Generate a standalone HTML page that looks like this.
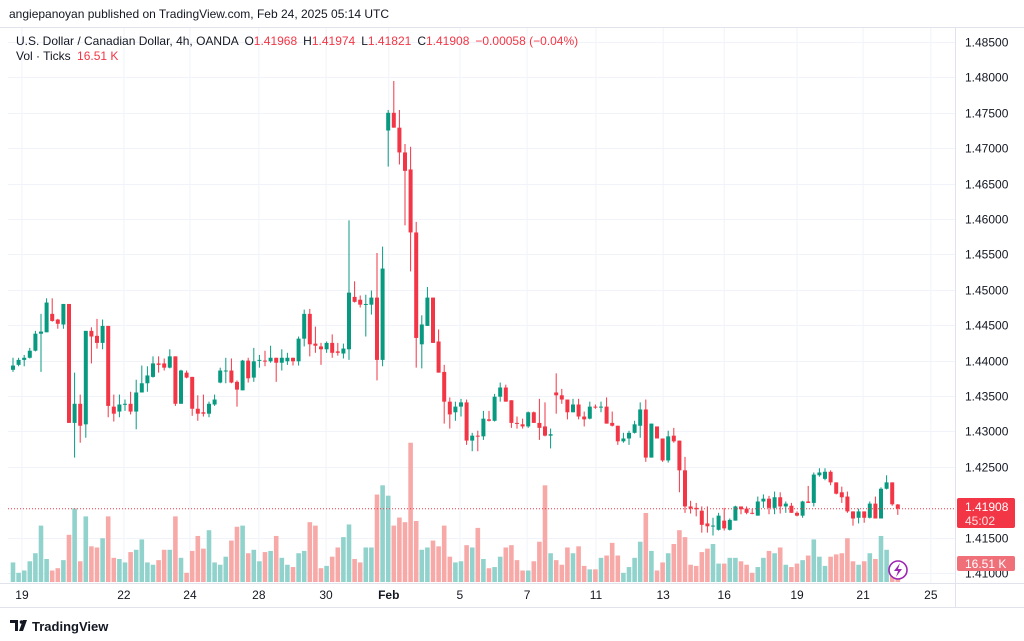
<!DOCTYPE html>
<html><head><meta charset="utf-8">
<style>
html,body{margin:0;padding:0;background:#fff;width:1024px;height:641px;overflow:hidden;font-family:"Liberation Sans",sans-serif;}
svg{display:block}
</style></head>
<body>
<svg id="chart" width="1024" height="641" viewBox="0 0 1024 641" xmlns="http://www.w3.org/2000/svg">
  <rect x="0" y="0" width="1024" height="641" fill="#ffffff"/>
  <text x="9" y="18" font-size="12" fill="#131722">angiepanoyan published on TradingView.com, Feb 24, 2025 05:14 UTC</text>
  <line x1="0" y1="27.5" x2="1024" y2="27.5" stroke="#e0e3eb"/>
  <g id="grid"></g>
  <g id="vol"></g>
  <g id="candles"></g>
  <line id="lastline" x1="8" x2="955" stroke="#f23645" stroke-width="1" stroke-dasharray="1,2"/>
  <g id="yaxis"></g>
  <g id="xaxis"></g>
  <text x="16" y="45" font-size="12" fill="#131722">U.S. Dollar / Canadian Dollar, 4h, OANDA <tspan dx="3">O</tspan><tspan fill="#f23645">1.41968</tspan><tspan dx="6">H</tspan><tspan fill="#f23645">1.41974</tspan><tspan dx="6">L</tspan><tspan fill="#f23645">1.41821</tspan><tspan dx="6">C</tspan><tspan fill="#f23645">1.41908</tspan><tspan dx="6" fill="#f23645">−0.00058 (−0.04%)</tspan></text>
  <text x="16" y="60" font-size="12" fill="#131722">Vol · Ticks <tspan dx="3" fill="#f23645">16.51 K</tspan></text>
  <g>
    <rect x="957" y="498" width="58" height="30" rx="2" fill="#f23645"/>
    <text x="965" y="511" font-size="12" fill="#fff">1.41908</text>
    <text x="965" y="525" font-size="12" fill="#fde0e2">45:02</text>
  </g>
  <g>
    <rect x="957" y="556" width="58" height="15" rx="2" fill="#f0707a"/>
    <text x="965" y="568" font-size="12" fill="#fff">16.51 K</text>
  </g>
  <g>
    <circle cx="898" cy="570" r="9" fill="#fff" stroke="#9c27b0" stroke-width="1.6"/>
    <path d="M900 563 L894 571 L898 571 L896 577 L902 569 L898 569 Z" fill="#9c27b0"/>
  </g>
  <line x1="0" y1="607.5" x2="1024" y2="607.5" stroke="#e0e3eb"/>
  <g>
    <path d="M10 620 h8 v11 h-3 v-8 h-5 z M19 631 l4 -11 h4 l-4 11 z" fill="#131722"/>
    <circle cx="21.5" cy="622" r="1.8" fill="#131722"/>
    <text x="32" y="631" font-size="13" font-weight="bold" fill="#131722">TradingView</text>
  </g>
</svg>
<script>
const O=[1.4387,1.4394,1.4401,1.4404,1.4414,1.4438,1.4440,1.4466,1.4458,1.4451,
1.4480,1.4312,1.4339,1.4310,1.4442,1.4435,1.4425,1.4449,1.4335,1.4328,
1.4338,1.4339,1.4328,1.4355,1.4368,1.4377,1.4396,1.4396,1.4390,1.4406,
1.4339,1.4383,1.4377,1.4332,1.4327,1.4325,1.4338,1.4369,1.4386,1.4386,
1.4370,1.4358,1.4400,1.4376,1.4400,1.4400,1.4399,1.4404,1.4397,1.4399,
1.4404,1.4399,1.4431,1.4466,1.4424,1.4420,1.4416,1.4425,1.4413,1.4410,
1.4416,1.4490,1.4486,1.4479,1.4479,1.4489,1.4401,1.4725,1.4750,1.4729,
1.4694,1.4670,1.4581,1.4423,1.4449,1.4489,1.4427,1.4384,1.4342,1.4327,
1.4335,1.4341,1.4287,1.4294,1.4293,1.4317,1.4315,1.4349,1.4362,1.4344,
1.4312,1.4310,1.4307,1.4327,1.4312,1.4307,1.4294,1.4355,1.4351,1.4345,
1.4327,1.4338,1.4321,1.4318,1.4335,1.4334,1.4335,1.4312,1.4308,1.4286,
1.4290,1.4298,1.4308,1.4331,1.4263,1.4307,1.4290,1.4259,1.4294,1.4287,
1.4245,1.4194,1.4192,1.4188,1.4170,1.4166,1.4161,1.4174,1.4161,1.4174,
1.4194,1.4191,1.4185,1.4181,1.4201,1.4205,1.4192,1.4207,1.4194,1.4195,
1.4185,1.4181,1.4201,1.4199,1.4238,1.4233,1.4243,1.4228,1.4214,1.4208,
1.4187,1.4178,1.4187,1.4178,1.4198,1.4177,1.4219,1.4228,1.41968];
const C=[1.4393,1.4401,1.4404,1.4414,1.4438,1.4441,1.4482,1.4456,1.4452,1.4480,
1.4312,1.4339,1.4308,1.4442,1.4434,1.4425,1.4449,1.4336,1.4325,1.4338,
1.4339,1.4328,1.4355,1.4368,1.4379,1.4396,1.4394,1.4390,1.4406,1.4339,
1.4386,1.4376,1.4332,1.4325,1.4325,1.4339,1.4345,1.4386,1.4386,1.4369,
1.4359,1.4400,1.4375,1.4399,1.4401,1.4399,1.4404,1.4397,1.4404,1.4404,
1.4399,1.4431,1.4466,1.4423,1.4421,1.4416,1.4425,1.4411,1.4411,1.4417,
1.4496,1.4483,1.4479,1.4480,1.4489,1.4401,1.4530,1.4750,1.4729,1.4694,
1.4668,1.4581,1.4432,1.4451,1.4489,1.4425,1.4383,1.4342,1.4324,1.4335,
1.4341,1.4287,1.4294,1.4293,1.4318,1.4315,1.4349,1.4362,1.4342,1.4312,
1.4311,1.4307,1.4327,1.4312,1.4305,1.4294,1.4296,1.4351,1.4345,1.4327,
1.4338,1.4321,1.4317,1.4335,1.4334,1.4335,1.4311,1.4308,1.4286,1.4290,
1.4298,1.4310,1.4331,1.4263,1.4311,1.4290,1.4259,1.4293,1.4286,1.4245,
1.4194,1.4191,1.4190,1.4168,1.4166,1.4167,1.4181,1.4163,1.4175,1.4194,
1.4190,1.4185,1.4184,1.4201,1.4205,1.4192,1.4207,1.4194,1.4198,1.4185,
1.4181,1.4201,1.4199,1.4239,1.4242,1.4243,1.4228,1.4212,1.4207,1.4187,
1.4177,1.4187,1.4178,1.4198,1.4177,1.4219,1.4228,1.4197,1.41908];
const H=[1.4404,1.4404,1.4408,1.4418,1.4442,1.4466,1.4488,1.4488,1.4459,1.4480,
1.4480,1.4383,1.4352,1.4442,1.4447,1.4459,1.4458,1.4449,1.4352,1.4352,
1.4345,1.4356,1.4373,1.4393,1.4392,1.4406,1.4406,1.4403,1.4416,1.4406,
1.4387,1.4386,1.4377,1.4351,1.4352,1.4342,1.4352,1.4390,1.4404,1.4403,
1.4372,1.4401,1.4404,1.4418,1.4408,1.4414,1.4421,1.4404,1.4416,1.4411,
1.4404,1.4434,1.4472,1.4473,1.4448,1.4425,1.4427,1.4437,1.4425,1.4424,
1.4598,1.4512,1.4492,1.4493,1.4499,1.4552,1.4561,1.4754,1.4795,1.4754,
1.4706,1.4702,1.4596,1.4464,1.4504,1.4489,1.4444,1.4394,1.4348,1.4342,
1.4346,1.4345,1.4298,1.4301,1.4329,1.4329,1.4353,1.4369,1.4366,1.4344,
1.4321,1.4318,1.4328,1.4328,1.4346,1.4341,1.4304,1.4382,1.4360,1.4345,
1.4346,1.4346,1.4328,1.4342,1.4338,1.4342,1.4348,1.4328,1.4308,1.4298,
1.4301,1.4315,1.4341,1.4345,1.4311,1.4307,1.4290,1.4301,1.4305,1.4287,
1.4264,1.4202,1.4199,1.4194,1.4194,1.4178,1.4185,1.4192,1.4177,1.4195,
1.4194,1.4194,1.4191,1.4208,1.4211,1.4209,1.4215,1.4214,1.4201,1.4199,
1.4187,1.4202,1.4223,1.4242,1.4248,1.4248,1.4245,1.4228,1.4222,1.4215,
1.4187,1.4191,1.4187,1.4201,1.4208,1.4221,1.4238,1.4228,1.41974];
const L=[1.4384,1.4392,1.4392,1.4403,1.4413,1.4384,1.4440,1.4455,1.4445,1.4445,
1.4312,1.4263,1.4284,1.4291,1.4396,1.4417,1.4416,1.4320,1.4314,1.4320,
1.4329,1.4324,1.4303,1.4355,1.4356,1.4376,1.4383,1.4386,1.4389,1.4336,
1.4339,1.4375,1.4322,1.4315,1.4321,1.4320,1.4336,1.4368,1.4368,1.4368,
1.4335,1.4358,1.4369,1.4370,1.4390,1.4392,1.4397,1.4370,1.4386,1.4394,
1.4393,1.4393,1.4420,1.4406,1.4411,1.4394,1.4411,1.4404,1.4407,1.4403,
1.4401,1.4482,1.4475,1.4434,1.4465,1.4372,1.4392,1.4674,1.4729,1.4677,
1.4591,1.4526,1.4390,1.4389,1.4449,1.4425,1.4383,1.4311,1.4304,1.4315,
1.4321,1.4281,1.4272,1.4272,1.4288,1.4314,1.4314,1.4342,1.4342,1.4305,
1.4304,1.4304,1.4305,1.4312,1.4288,1.4293,1.4276,1.4325,1.4339,1.4317,
1.4327,1.4317,1.4307,1.4317,1.4332,1.4327,1.4311,1.4307,1.4281,1.4284,
1.4281,1.4297,1.4291,1.4257,1.4263,1.4290,1.4257,1.4256,1.4284,1.4214,
1.4185,1.4184,1.4180,1.4157,1.4157,1.4153,1.4160,1.4160,1.4160,1.4174,
1.4183,1.4183,1.4183,1.4181,1.4192,1.4183,1.4183,1.4184,1.4185,1.4185,
1.4180,1.4178,1.4199,1.4194,1.4236,1.4231,1.4224,1.4211,1.4199,1.4185,
1.4167,1.4170,1.4171,1.4177,1.4177,1.4177,1.4218,1.4195,1.41821];
const VOL=[17,8,10,18,25,49,20,10,12,19,41,64,18,57,31,30,38,57,21,20,17,26,28,37,17,15,19,28,28,57,21,8,27,40,29,45,17,15,22,36,48,
49,25,28,18,26,27,40,21,15,13,25,27,52,49,12,14,22,30,39,50,20,17,30,30,76,84,75,49,56,52,121,53,28,30,36,31,49,22,17,18,32,
30,47,20,12,13,22,30,32,19,10,10,18,35,84,25,19,15,30,25,31,14,11,11,21,23,34,23,8,13,21,35,60,27,10,17,25,33,45,39,15,14,
26,29,33,16,16,21,21,18,15,8,13,21,27,25,30,15,13,16,19,23,37,22,14,22,24,25,38,18,15,18,25,20,40,28,12,16.51];
const PRICE_TICKS=[1.485,1.48,1.475,1.47,1.465,1.46,1.455,1.45,1.445,1.44,1.435,1.43,1.425,1.415,1.41];
const TIME_LABELS=["19","22","24","28","30","Feb","5","7","11","13","16","19","21","25"];
const TIME_IDX=[1.6,19.8,31.6,43.9,55.9,67.1,79.8,91.8,104.1,116.1,127,140,151.8,163.9];
const LAST=1.41908;

const NS="http://www.w3.org/2000/svg";
const X0=13, STEP=5.6;
function xs(i){return X0+i*STEP;}
function ys(p){return 42+(1.485-p)*7080;}
function vy(v){return 582-v*1.151;}
function mk(tag,attrs,parent){const e=document.createElementNS(NS,tag);for(const k in attrs)e.setAttribute(k,attrs[k]);parent.appendChild(e);return e;}

const grid=document.getElementById('grid');
const yax=document.getElementById('yaxis');
const xax=document.getElementById('xaxis');
PRICE_TICKS.forEach(p=>{
  const y=Math.round(ys(p))+0.5;
  const g=mk('line',{x1:8,x2:955,y1:y,y2:y,stroke:'#f0f3fa'},grid);
  
  
  const t=mk('text',{x:965,y:y+4,'font-size':12,fill:'#131722'},yax);
  t.textContent=p.toFixed(5);
  
  
});
TIME_LABELS.forEach((lab,k)=>{
  const x=xs(TIME_IDX[k]);
  const g=mk('line',{x1:x,x2:x,y1:28,y2:583,stroke:'#f0f3fa'},grid);
  
  
  const t=mk('text',{x:x,y:599,'font-size':12,fill:'#131722','text-anchor':'middle','font-weight':lab==='Feb'?'bold':'normal'},xax);
  t.textContent=lab;
  
  
});
const bord=mk('line',{x1:955.5,x2:955.5,y1:28,y2:607,stroke:'#e0e3eb'},grid);


const bord2=mk('line',{x1:0,x2:1024,y1:583.5,y2:583.5,stroke:'#e0e3eb'},grid);



const vg=document.getElementById('vol');
const cg=document.getElementById('candles');
for(let i=0;i<O.length;i++){
  const up=C[i]>=O[i];
  const x=xs(i);
  const vb=mk('rect',{x:x-2.3,y:vy(VOL[i]),width:4.6,height:582-vy(VOL[i]),fill:up?'#92d2cc':'#f7a9a7'},vg);
  
  
  const col=up?'#089981':'#f23645';
  const w=mk('line',{x1:x,x2:x,y1:ys(H[i]),y2:ys(L[i]),stroke:col,'stroke-width':1},cg);
  
  
  const top=ys(Math.max(O[i],C[i])),bot=ys(Math.min(O[i],C[i]));
  const b=mk('rect',{x:x-2,y:top,width:4,height:Math.max(1,bot-top),fill:col},cg);
  
  
}
const ll=document.getElementById('lastline');
ll.setAttribute('y1',ys(LAST));ll.setAttribute('y2',ys(LAST));
</script>
</body></html>
